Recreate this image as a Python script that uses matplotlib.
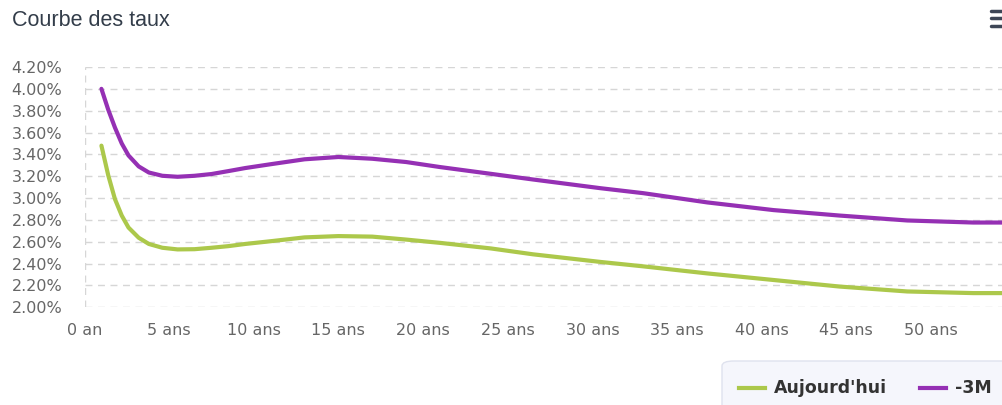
import matplotlib.pyplot as plt
from matplotlib.patches import FancyBboxPatch
from matplotlib.lines import Line2D

# maturities (years) and rates (%)
maturites = [1, 1.4, 1.8, 2.2, 2.6, 3.2, 3.8, 4.6, 5.5, 6.5, 7.5, 8.5, 9.5, 11, 13,
             15, 17, 19, 21, 24, 26.5, 30.5, 33, 36.8, 40.7, 44.6, 48.6, 52.5, 54.2]
aujourdhui = [3.48, 3.21, 2.99, 2.84, 2.73, 2.637, 2.58, 2.545, 2.53, 2.532, 2.545,
              2.56, 2.58, 2.605, 2.64, 2.652, 2.647, 2.62, 2.59, 2.539, 2.485,
              2.415, 2.375, 2.31, 2.25, 2.19, 2.145, 2.13, 2.13]
moins_3m = [4.00, 3.81, 3.645, 3.50, 3.39, 3.29, 3.234, 3.204, 3.195, 3.204, 3.22,
            3.247, 3.275, 3.31, 3.355, 3.376, 3.36, 3.33, 3.284, 3.222, 3.17,
            3.09, 3.045, 2.96, 2.89, 2.84, 2.795, 2.776, 2.776]

x_ticks = [0, 5, 10, 15, 20, 25, 30, 35, 40, 45, 50]
x_labels = ['0 an'] + ['%d ans' % v for v in x_ticks[1:]]
y_ticks = [2.0 + 0.2 * i for i in range(12)]

green = '#acc84b'
purple = '#9530b4'

W, H = 1002, 405
fig = plt.figure(figsize=(W / 100, H / 100), dpi=100)
ax = fig.add_axes([84.5 / W, 1 - 307.3 / H, (W - 84.5) / W, (307.3 - 67) / H])

ax.plot(maturites, aujourdhui, color=green, lw=3, solid_capstyle='round', solid_joinstyle='round', zorder=3)
ax.plot(maturites, moins_3m, color=purple, lw=3, solid_capstyle='round', solid_joinstyle='round', zorder=3)

ax.set_xlim(0, 54.2)
ax.set_ylim(2.0, 4.2)
ax.set_yticks(y_ticks)
ax.set_yticklabels(['%.2f%%' % v for v in y_ticks])
ax.set_xticks(x_ticks)
ax.set_xticklabels(x_labels)

for v in y_ticks:
    ax.axhline(v, color='#d6d6d6', lw=1, ls=(0, (5, 4)), zorder=1)
ax.axvline(0, color='#d6d6d6', lw=1, ls=(0, (5, 4)), zorder=1)

for s in ax.spines.values():
    s.set_visible(False)
ax.tick_params(axis='both', length=0, colors='#666666', labelsize=11.5)
ax.tick_params(axis='y', pad=16)
ax.tick_params(axis='x', pad=11)

fig.text(12 / W, 1 - 20 / H, 'Courbe des taux', fontsize=15.5, family='Liberation Sans',
         color='#333d4a', va='center', ha='left')

# menu icon
for yy in (10.7, 18.3, 26):
    fig.add_artist(Line2D([991 / W, 1002 / W], [1 - yy / H, 1 - yy / H],
                          color='#3d4656', lw=2.5, solid_capstyle='round'))

# legend box
box = FancyBboxPatch((722 / W, -0.1), (W - 722) / W + 0.1, 0.1 + (405 - 361) / H,
                     boxstyle='round,pad=0,rounding_size=0.012', transform=fig.transFigure,
                     facecolor='#f5f6fc', edgecolor='#dfe2ee', lw=1)
fig.add_artist(box)
ly = 1 - 388 / H
fig.add_artist(Line2D([739 / W, 765 / W], [ly, ly], color=green, lw=3))
fig.text(774 / W, ly, "Aujourd'hui", fontsize=12.5, fontweight='bold', color='#333333', va='center')
fig.add_artist(Line2D([920 / W, 946 / W], [ly, ly], color=purple, lw=3))
fig.text(955 / W, ly, '-3M', fontsize=12.5, fontweight='bold', color='#333333', va='center')

fig.savefig('out.png', dpi=100)
